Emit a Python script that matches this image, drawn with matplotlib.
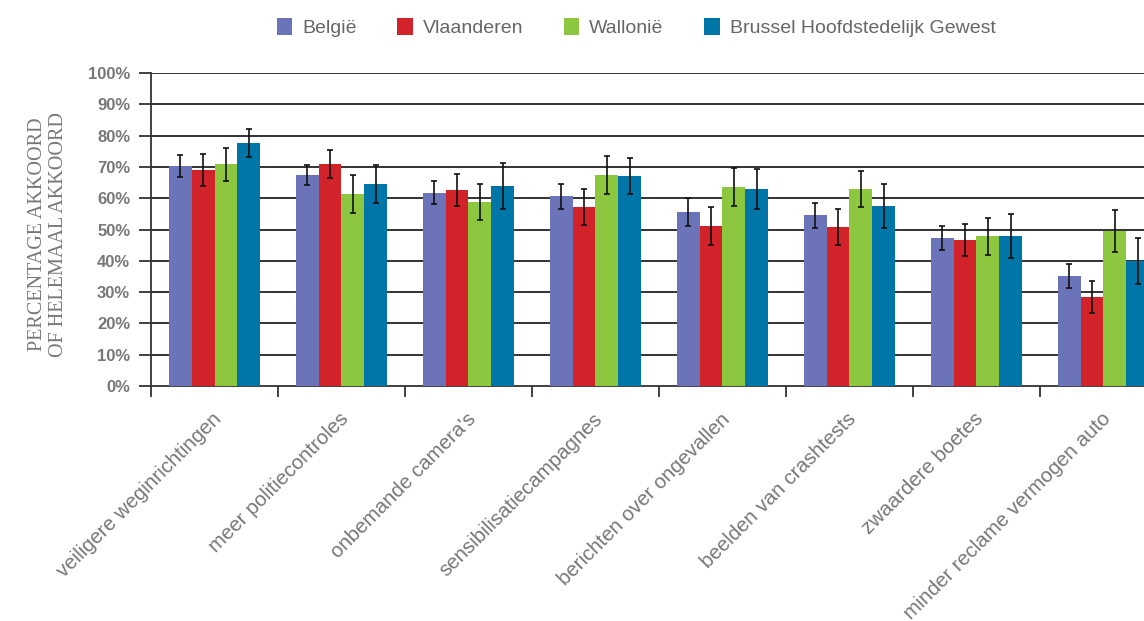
import matplotlib
matplotlib.use("Agg")
import matplotlib.pyplot as plt
import numpy as np

categories = [
    "veiligere weginrichtingen",
    "meer politiecontroles",
    "onbemande camera's",
    "sensibilisatiecampagnes",
    "berichten over ongevallen",
    "beelden van crashtests",
    "zwaardere boetes",
    "minder reclame vermogen auto",
]
series_names = ["België", "Vlaanderen", "Wallonië", "Brussel Hoofdstedelijk Gewest"]

belgie = [70.3, 67.4, 61.7, 60.7, 55.6, 54.6, 47.3, 35.1]
vlaanderen = [69.0, 70.9, 62.6, 57.2, 51.1, 50.8, 46.6, 28.4]
wallonie = [70.9, 61.3, 58.8, 67.4, 63.6, 62.9, 47.9, 49.6]
brussel = [77.6, 64.5, 63.9, 67.1, 62.9, 57.5, 47.9, 39.9]

belgie_err = [3.6, 3.3, 3.7, 4.0, 4.6, 4.0, 3.8, 3.9]
vlaanderen_err = [5.2, 4.5, 5.2, 5.9, 6.2, 5.9, 5.2, 5.2]
wallonie_err = [5.3, 6.0, 5.9, 6.0, 6.2, 5.8, 5.9, 6.7]
brussel_err = [4.4, 6.1, 7.2, 5.9, 6.5, 6.9, 7.0, 7.4]

colors = ["#6b74b8", "#d2232a", "#8dc63f", "#0076a8"]

values = [belgie, vlaanderen, wallonie, brussel]
errors = [belgie_err, vlaanderen_err, wallonie_err, brussel_err]

fig = plt.figure(figsize=(11.44, 6.21), dpi=100)
ax = fig.add_axes([0.132, 0.3784, 0.888, 0.504])

n = len(categories)
centers = np.arange(n) + 0.5
bar_w = 0.18
offsets = (np.arange(4) - 1.5) * bar_w

for vals, errs, col, name, off in zip(values, errors, colors, series_names, offsets):
    ax.bar(centers + off, vals, width=bar_w, color=col, label=name, zorder=3)
    ax.errorbar(centers + off, vals, yerr=errs, fmt="none", ecolor="#111111",
                elinewidth=1.2, capsize=2.5, capthick=1.2, zorder=4)

ax.set_xlim(0, n)
ax.set_ylim(0, 100)

ax.set_yticks(np.arange(0, 101, 10))
ax.set_yticklabels([f"{v}%" for v in range(0, 101, 10)])
for y in range(10, 101, 10):
    ax.axhline(y, color="#222222", lw=1.3, zorder=1)

ax.set_xticks(np.arange(0, n + 1))
ax.set_xticklabels([])
for c, lab in zip(centers, categories):
    ax.text(c - 0.02, -7.5, lab, rotation=45, ha="right", va="top",
            rotation_mode="anchor", fontsize=14.8, color="#777777",
            family="Liberation Sans", transform=ax.transData)

for s in ["top", "right"]:
    ax.spines[s].set_visible(False)
ax.spines["left"].set_color("#333333")
ax.spines["bottom"].set_color("#333333")
ax.spines["left"].set_linewidth(1.3)
ax.spines["bottom"].set_linewidth(1.3)

ax.tick_params(axis="y", direction="out", length=9, width=1.3, color="#333333",
               labelsize=12, labelcolor="#777777", pad=6)
ax.tick_params(axis="x", direction="out", length=8, width=1.3, color="#333333")
for t in ax.get_yticklabels():
    t.set_fontweight("bold")
    t.set_family("Liberation Sans")

fig.text(0.042, 0.622, "PERCENTAGE AKKOORD\nOF HELEMAAL AKKOORD", rotation=90,
         ha="center", va="center", fontsize=14.5, color="#777777",
         family="Liberation Serif", linespacing=1.15)

leg = fig.legend(loc="center", bbox_to_anchor=(0.556, 0.956), ncol=4, frameon=False,
                 handlelength=0.8, handleheight=1.0, handletextpad=0.5,
                 columnspacing=2.1, prop={"family": "Liberation Sans", "size": 14})
for t in leg.get_texts():
    t.set_color("#666666")

fig.savefig("out.png", dpi=100)
